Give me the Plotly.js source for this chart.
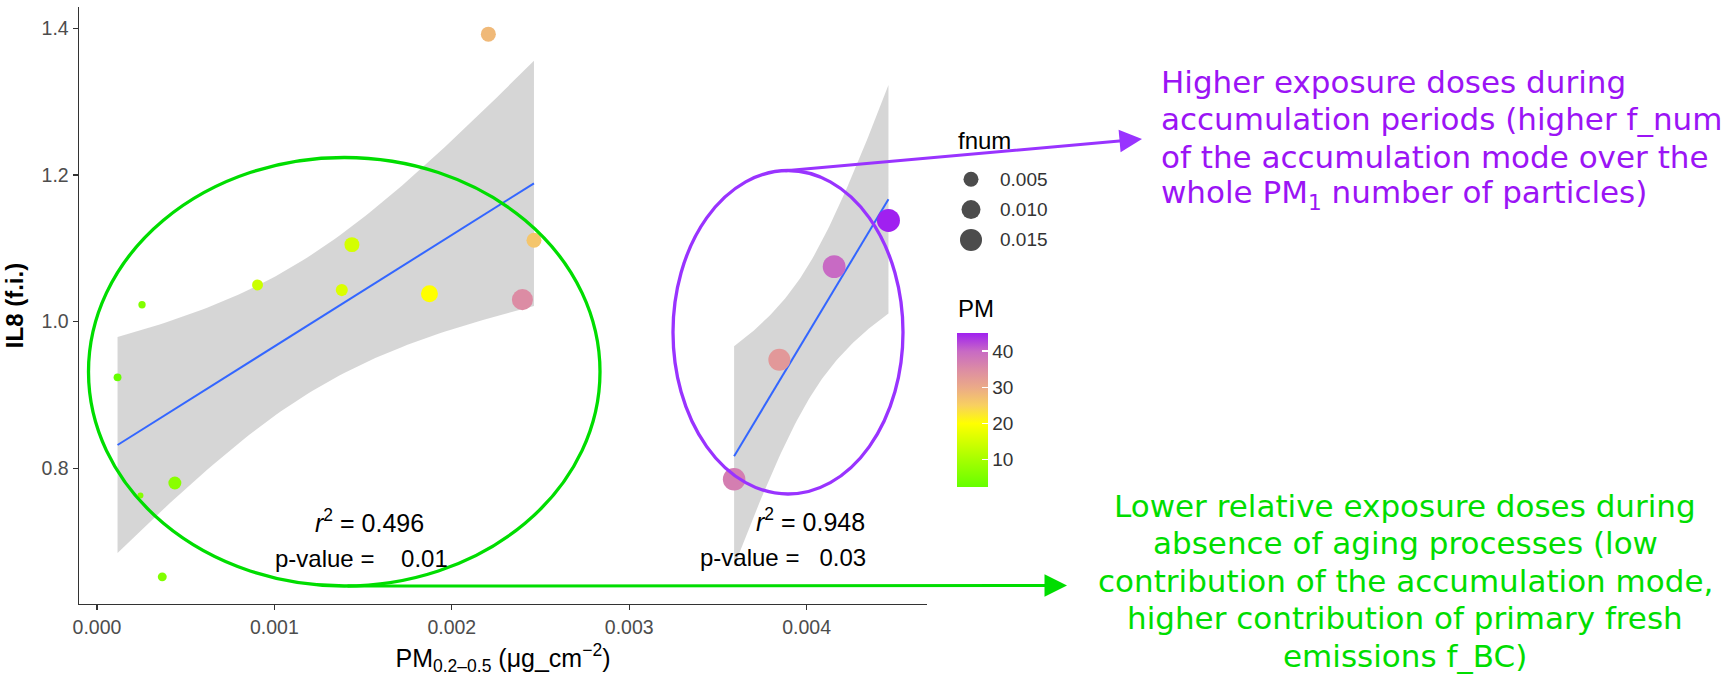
<!DOCTYPE html>
<html>
<head>
<meta charset="utf-8">
<script src="https://cdn.plot.ly/plotly-3.0.1.min.js"></script>
<style>
html, body { margin: 0; padding: 0; background: #ffffff; }
#chart { width: 1729px; height: 676px; }
</style>
</head>
<body>
<div id="chart"></div>
<script>
// ---------------- data ----------------
const dose  = [0.002206, 0.001437, 0.000905, 0.000254, 0.001380, 0.001874, 0.002398, 0.002463,
               0.000116, 0.000245, 0.000439, 0.000368, 0.004461, 0.004155, 0.003846, 0.003591];
const il8   = [1.392, 1.105, 1.050, 1.023, 1.043, 1.038, 1.030, 1.111,
               0.924, 0.763, 0.780, 0.652, 1.138, 1.075, 0.948, 0.785];
const pm    = [28, 15.2, 14, 5.5, 16, 20, 35, 26.5,
               2.4, 6, 6.5, 5.5, 45.1, 40, 33, 37];
const fnum  = [0.0050, 0.0050, 0.0018, 0.0005, 0.0025, 0.0073, 0.0133, 0.0050,
               0.0006, 0.0004, 0.0032, 0.0009, 0.0169, 0.0165, 0.0150, 0.0160];
const group = ['low','low','low','low','low','low','low','low',
               'low','low','low','low','high','high','high','high'];
const fitGroups   = ['low', 'high'];
const r2Labels    = ['0.496', '0.948'];
const pLabels     = ['\u00A0\u00A0\u00A00.01', '\u00A0\u00A00.03'];
const fnumBreaks  = [0.005, 0.010, 0.015];
const pmTicks     = [10, 20, 30, 40];
const xTicks      = [0.000, 0.001, 0.002, 0.003, 0.004];
const yTicks      = [0.8, 1.0, 1.2, 1.4];
const noteHigh = ['Higher exposure doses during',
                  'accumulation periods (higher f_num',
                  'of the accumulation mode over the',
                  'whole PM<sub>1</sub> number of particles)'];
const noteLow  = ['Lower relative exposure doses during',
                  'absence of aging processes (low',
                  'contribution of the accumulation mode,',
                  'higher contribution of primary fresh',
                  'emissions f_BC)'];

// ---------------- layout geometry (pixels) ----------------
const W = 1729, H = 676;
const ML = 79, MT = 7, MB = 72, MR = 0;
const PW = W - ML - MR, PH = H - MT - MB;
const plotRight = 927;
const px = v => (v - ML) / PW;            // pixel x -> paper
const py = v => (H - MB - v) / PH;        // pixel y -> paper

const FONT = 'Liberation Sans, Arial, sans-serif';
const NOTE_FONT = 'DejaVu Sans, Verdana, sans-serif';
const GREEN = '#00DD00';
const PURPLE_LINE = '#9933FF';
const PURPLE_TEXT = '#9B14F5';
const NOTE_SIZE = 31;
const NOTE_STEP = 37.4;

// ---------------- helpers ----------------
function tQuant(df) {
  const t = {1:12.706,2:4.303,3:3.182,4:2.776,5:2.571,6:2.447,7:2.365,8:2.306,9:2.262,
             10:2.228,11:2.201,12:2.179,13:2.160,14:2.145,15:2.131};
  return t[df];
}
function lmFit(xs, ys, nGrid) {
  const n = xs.length;
  const xm = xs.reduce((a, b) => a + b, 0) / n;
  const ym = ys.reduce((a, b) => a + b, 0) / n;
  let sxx = 0, sxy = 0, syy = 0;
  for (let i = 0; i < n; i++) {
    sxx += (xs[i] - xm) ** 2; sxy += (xs[i] - xm) * (ys[i] - ym); syy += (ys[i] - ym) ** 2;
  }
  const b = sxy / sxx, a = ym - b * xm;
  const sse = syy - b * sxy;
  const s = Math.sqrt(sse / (n - 2));
  const t = tQuant(n - 2);
  const lo = Math.min(...xs), hi = Math.max(...xs);
  const gx = [], fy = [], ly = [], uy = [];
  for (let k = 0; k < nGrid; k++) {
    const x = lo + (hi - lo) * k / (nGrid - 1);
    const yh = a + b * x;
    const se = s * Math.sqrt(1 / n + (x - xm) ** 2 / sxx);
    gx.push(x); fy.push(yh); ly.push(yh - t * se); uy.push(yh + t * se);
  }
  return { gx, fy, ly, uy };
}

// size scale (area-like, as in ggplot scale_size)
const fMin = Math.min(...fnum), fMax = Math.max(...fnum);
const S_MIN = 6, S_MAX = 23;
const sizeOf = f => S_MIN + (S_MAX - S_MIN) * Math.sqrt(Math.max(0, (f - fMin) / (fMax - fMin)));

const traces = [];
let yAll = il8.slice();
fitGroups.forEach(g => {
  const xs = [], ys = [];
  group.forEach((gg, i) => { if (gg === g) { xs.push(dose[i]); ys.push(il8[i]); } });
  const f = lmFit(xs, ys, 80);
  yAll = yAll.concat(f.ly, f.uy);
  traces.push({ x: f.gx, y: f.ly, type: 'scatter', mode: 'lines', line: { width: 0 },
                hoverinfo: 'skip', showlegend: false });
  traces.push({ x: f.gx, y: f.uy, type: 'scatter', mode: 'lines', line: { width: 0 },
                fill: 'tonexty', fillcolor: 'rgba(153,153,153,0.4)', hoverinfo: 'skip', showlegend: false });
  traces.push({ x: f.gx, y: f.fy, type: 'scatter', mode: 'lines',
                line: { color: '#3366FF', width: 2 }, showlegend: false });
});
// axis ranges with 5% expansion like ggplot
const xmin = Math.min(...dose), xmax = Math.max(...dose);
const ymin = Math.min(...yAll), ymax = Math.max(...yAll);
const xr = [xmin - 0.05 * (xmax - xmin), xmax + 0.05 * (xmax - xmin)];
const yr = [ymin - 0.05 * (ymax - ymin), ymax + 0.05 * (ymax - ymin)];

// points
traces.push({
  x: dose, y: il8, type: 'scatter', mode: 'markers', showlegend: false,
  marker: { size: fnum.map(sizeOf), color: pm, coloraxis: 'coloraxis', line: { width: 0 }, opacity: 1 }
});

// size legend markers (own small axes)
traces.push({
  x: fnumBreaks.map(() => 0), y: fnumBreaks.map((_, i) => i),
  xaxis: 'x2', yaxis: 'y2', type: 'scatter', mode: 'markers', showlegend: false, hoverinfo: 'skip',
  marker: { size: fnumBreaks.map(sizeOf), color: '#000000', line: { width: 0 } }
});

const pmMin = Math.min(...pm), pmMax = Math.max(...pm);
const norm = v => (v - pmMin) / (pmMax - pmMin);

const annotations = [];
// r2 / p-value labels (data coordinates)
const statPos = [
  { rx: 0.001536, ry: 0.7286, pxv: 0.001490, pyv: 0.6767 },
  { rx: 0.004024, ry: 0.7300, pxv: 0.003866, pyv: 0.6789 }
];
fitGroups.forEach((g, i) => {
  annotations.push({ xref: 'x', yref: 'y', x: statPos[i].rx, y: statPos[i].ry, showarrow: false,
    text: '<i>r</i><sup>2</sup> = ' + r2Labels[i], font: { family: FONT, size: 25, color: '#000' } });
  annotations.push({ xref: 'x', yref: 'y', x: statPos[i].pxv, y: statPos[i].pyv, showarrow: false,
    text: 'p-value = ' + pLabels[i], font: { family: FONT, size: 24, color: '#000' } });
});
// legend titles and labels
annotations.push({ xref: 'paper', yref: 'paper', x: px(956), y: py(140), xanchor: 'left', yanchor: 'middle',
  showarrow: false, text: 'fnum', font: { family: FONT, size: 24, color: '#000' } });
annotations.push({ xref: 'paper', yref: 'paper', x: px(956), y: py(308), xanchor: 'left', yanchor: 'middle',
  showarrow: false, text: 'PM', font: { family: FONT, size: 24, color: '#000' } });
fnumBreaks.forEach((b, i) => {
  annotations.push({ xref: 'paper', yref: 'y2', x: px(998), y: i, xanchor: 'left', yanchor: 'middle',
    showarrow: false, text: b.toFixed(3), font: { family: FONT, size: 19, color: '#333' } });
});
// explanatory notes, one annotation per line
noteHigh.forEach((t, i) => {
  annotations.push({ xref: 'paper', yref: 'paper', x: px(1159), y: py(82 + i * NOTE_STEP),
    xanchor: 'left', yanchor: 'middle', align: 'left', showarrow: false, text: t,
    font: { family: NOTE_FONT, size: NOTE_SIZE, color: PURPLE_TEXT } });
});
noteLow.forEach((t, i) => {
  annotations.push({ xref: 'paper', yref: 'paper', x: px(1405), y: py(506 + i * NOTE_STEP),
    xanchor: 'center', yanchor: 'middle', align: 'center', showarrow: false, text: t,
    font: { family: NOTE_FONT, size: NOTE_SIZE, color: GREEN } });
});
// arrows
annotations.push({ xref: 'paper', yref: 'paper', x: px(1142), y: py(139), ax: 784 - 1142, ay: 171 - 139,
  text: '', showarrow: true, arrowhead: 2, arrowsize: 1.5, arrowwidth: 3, arrowcolor: PURPLE_LINE });
annotations.push({ xref: 'paper', yref: 'paper', x: px(1067), y: py(585.5), ax: 346 - 1067, ay: 0.5,
  text: '', showarrow: true, arrowhead: 2, arrowsize: 1.5, arrowwidth: 3, arrowcolor: GREEN });

const shapes = [
  { type: 'circle', xref: 'paper', yref: 'paper', x0: px(88.5), x1: px(600), y0: py(586), y1: py(157.5),
    line: { color: GREEN, width: 3.3 }, layer: 'above' },
  { type: 'circle', xref: 'paper', yref: 'paper', x0: px(673), x1: px(903), y0: py(494), y1: py(170.5),
    line: { color: PURPLE_LINE, width: 3.3 }, layer: 'above' }
];

const layout = {
  width: W, height: H,
  margin: { l: ML, r: MR, t: MT, b: MB, pad: 0 },
  paper_bgcolor: '#ffffff', plot_bgcolor: '#ffffff',
  showlegend: false,
  font: { family: FONT, color: '#000' },
  xaxis: {
    domain: [0, (plotRight - ML) / PW], range: xr, showgrid: false, zeroline: false,
    showline: true, linecolor: '#333333', linewidth: 1.4,
    ticks: 'outside', ticklen: 5, tickwidth: 1.3, tickcolor: '#333333',
    tickvals: xTicks, ticktext: xTicks.map(v => v.toFixed(3)),
    tickfont: { family: FONT, size: 19.5, color: '#4D4D4D' },
    title: { text: 'PM<sub>0.2\u20130.5</sub> (\u03BCg_cm<sup>\u22122</sup>)', font: { family: FONT, size: 25, color: '#000' }, standoff: 13 },
    automargin: false
  },
  yaxis: {
    range: yr, showgrid: false, zeroline: false,
    showline: true, linecolor: '#333333', linewidth: 1.4,
    ticks: 'outside', ticklen: 5, tickwidth: 1.3, tickcolor: '#333333',
    tickvals: yTicks, ticktext: yTicks.map(v => v.toFixed(1)),
    tickfont: { family: FONT, size: 19.5, color: '#4D4D4D' },
    title: { text: '<b>IL8 (f.i.)</b>', font: { family: FONT, size: 24, color: '#000' }, standoff: 11 },
    automargin: false
  },
  xaxis2: { domain: [px(956), px(986)], range: [-1, 1], visible: false, anchor: 'y2', fixedrange: true },
  yaxis2: { domain: [py(255.05), py(164.15)], range: [2.5, -0.5], visible: false, anchor: 'x2', fixedrange: true },
  coloraxis: {
    cmin: pmMin, cmax: pmMax,
    colorscale: [
      [0.000, '#66FF00'],
      [norm(10), '#A6FF00'],
      [norm(20), '#FFFF00'],
      [norm(25), '#F8D060'],
      [norm(30), '#EBAA88'],
      [norm(35), '#DC8CA4'],
      [norm(40), '#C86AC4'],
      [1.000, '#A020F0']
    ],
    colorbar: {
      x: px(956.7), xanchor: 'left', y: py(332.7), yanchor: 'top',
      len: 154, lenmode: 'pixels', thickness: 31, thicknessmode: 'pixels',
      outlinewidth: 0, xpad: 0, ypad: 0,
      ticks: 'inside', ticklen: 6, tickwidth: 1.3, tickcolor: '#ffffff',
      tickvals: pmTicks, ticktext: pmTicks.map(String),
      tickfont: { family: FONT, size: 19, color: '#333' },
      title: { text: '' }
    }
  },
  annotations: annotations,
  shapes: shapes
};

Plotly.newPlot('chart', traces, layout, { displayModeBar: false, staticPlot: true });
</script>
</body>
</html>
